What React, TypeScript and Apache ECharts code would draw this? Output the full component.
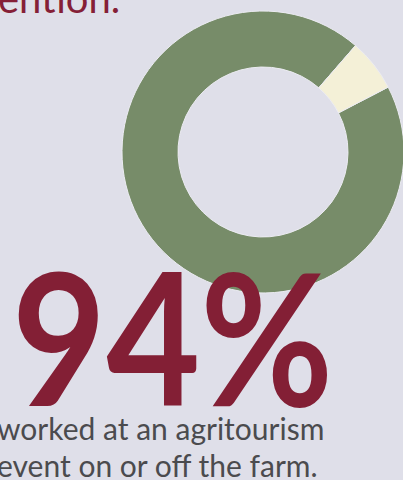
import React, { useEffect, useRef } from "react";
import * as echarts from "echarts";

const categories = ["Worked at an agritourism event", "Did not"];
const values = [94, 6];
const sliceColors = ["#778c69", "#f4f0d7"];
const headline = "94%";
const topText = "ention.";
const captionLines = ["worked at an agritourism", "event on or off the farm."];

export default function App() {
  const ref = useRef<HTMLDivElement>(null);
  useEffect(() => {
    document.body.style.margin = "0";
    const chart = echarts.init(ref.current!, null, { renderer: "svg" });
    chart.setOption({
      animation: false,
      backgroundColor: "#dfdfe9",
      series: [
        {
          type: "pie",
          silent: true,
          center: [263, 152],
          radius: [85, 141],
          startAngle: 27.4,
          clockwise: true,
          label: { show: false },
          labelLine: { show: false },
          itemStyle: { borderColor: "#ececf2", borderWidth: 1 },
          data: categories.map((c, i) => ({
            name: c,
            value: values[i],
            itemStyle: { color: sliceColors[i] },
          })),
        },
      ],
      graphic: [
        {
          type: "text",
          z: 100,
          x: -2,
          y: -2,
          style: {
            text: topText,
            font: "400 40px Lato",
            fill: "#851f37",
            verticalAlign: "middle",
          },
        },
        {
          type: "text",
          z: 100,
          x: 12,
          y: 335,
          scaleX: 0.955,
          scaleY: 1.08,
          style: {
            text: headline,
            font: "700 170px Lato",
            fill: "#831f35",
            verticalAlign: "middle",
          },
        },
        ...captionLines.map((t, i) => ({
          type: "text",
          z: 100,
          x: -3,
          y: 428 + i * 37,
          style: {
            text: t,
            font: "400 30px Lato",
            fill: "#4b4b4e",
            verticalAlign: "middle",
          },
        })),
      ],
    });
    return () => chart.dispose();
  }, []);
  return <div ref={ref} style={{ width: 403, height: 480 }} />;
}
